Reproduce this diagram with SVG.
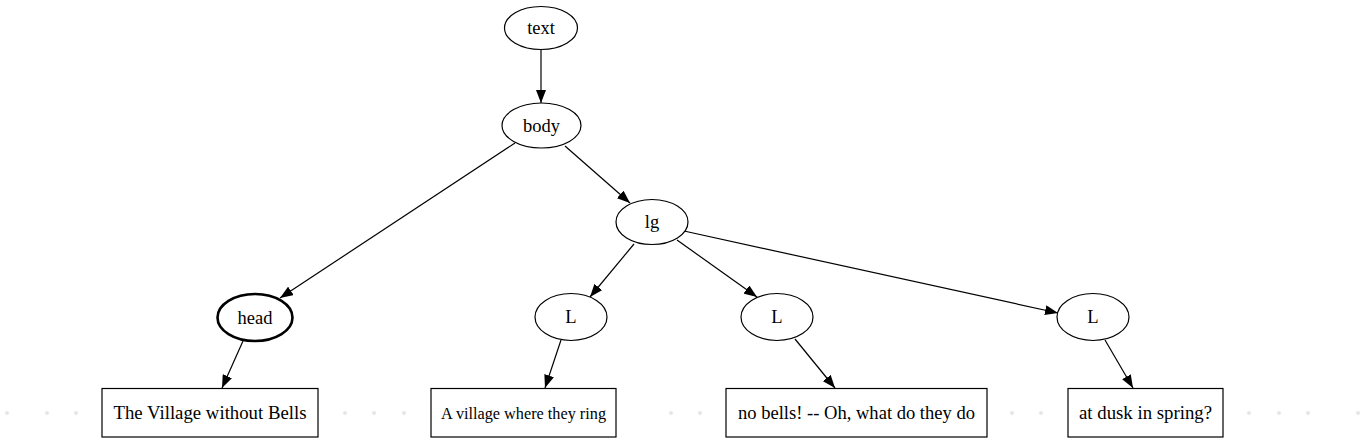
<svg xmlns="http://www.w3.org/2000/svg" width="1365" height="443" viewBox="0 0 1365 443">
<defs>
<style>
.n{fill:#fff;stroke:#000;stroke-width:1.2}
.b{fill:#fff;stroke:#000;stroke-width:2.6}
.t{font-family:"Liberation Serif","Times New Roman",serif;font-size:18.5px;fill:#000;text-anchor:middle}
.e{fill:none;stroke:#000;stroke-width:1.2}
.d{fill:#e6e6e6}
</style>
<marker id="ah" markerUnits="userSpaceOnUse" markerWidth="14" markerHeight="10" refX="13" refY="5" orient="auto">
<path d="M0,0 L13,5 L0,10 Z" fill="#000"/>
</marker>
</defs>
<rect width="1365" height="443" fill="#fff"/>
<g id="dots">
<circle class="d" cx="7" cy="413" r="2"/>
<circle class="d" cx="47" cy="413" r="2"/>
<circle class="d" cx="76" cy="413" r="2"/>
<circle class="d" cx="345" cy="413" r="2"/>
<circle class="d" cx="374" cy="413" r="2"/>
<circle class="d" cx="404" cy="413" r="2"/>
<circle class="d" cx="671" cy="413" r="2"/>
<circle class="d" cx="700" cy="413" r="2"/>
<circle class="d" cx="1012" cy="413" r="2"/>
<circle class="d" cx="1041" cy="413" r="2"/>
<circle class="d" cx="1249" cy="413" r="2"/>
<circle class="d" cx="1279" cy="413" r="2"/>
<circle class="d" cx="1308" cy="413" r="2"/>
<circle class="d" cx="1358" cy="413" r="2"/>
</g>
<g id="edges">
<line class="e" x1="541" y1="50" x2="541" y2="103" marker-end="url(#ah)"/>
<line class="e" x1="515" y1="143" x2="280" y2="298" marker-end="url(#ah)"/>
<line class="e" x1="565" y1="146" x2="630" y2="203" marker-end="url(#ah)"/>
<line class="e" x1="634" y1="244" x2="590" y2="297" marker-end="url(#ah)"/>
<line class="e" x1="677" y1="240" x2="757" y2="297" marker-end="url(#ah)"/>
<line class="e" x1="684" y1="231" x2="1058" y2="313" marker-end="url(#ah)"/>
<line class="e" x1="243" y1="341" x2="222" y2="388" marker-end="url(#ah)"/>
<line class="e" x1="561" y1="340" x2="545" y2="388" marker-end="url(#ah)"/>
<line class="e" x1="795" y1="339" x2="835" y2="388" marker-end="url(#ah)"/>
<line class="e" x1="1105" y1="340" x2="1133" y2="388" marker-end="url(#ah)"/>
</g>
<g id="n_text"><ellipse class="n" cx="541" cy="28" rx="36.5" ry="21.5"/><text class="t" x="541" y="34">text</text></g>
<g id="n_body"><ellipse class="n" cx="541.5" cy="125.5" rx="39.5" ry="22.5"/><text class="t" x="541.5" y="131.5">body</text></g>
<g id="n_lg"><ellipse class="n" cx="652" cy="222" rx="36" ry="22.5"/><text class="t" x="652" y="228">lg</text></g>
<g id="n_head"><ellipse class="b" cx="255" cy="317.5" rx="37.5" ry="23.5"/><text class="t" x="255" y="323.5">head</text></g>
<g id="n_L1"><ellipse class="n" cx="571" cy="317" rx="36" ry="23.5"/><text class="t" x="571" y="323">L</text></g>
<g id="n_L2"><ellipse class="n" cx="777" cy="317" rx="36" ry="23.5"/><text class="t" x="777" y="323">L</text></g>
<g id="n_L3"><ellipse class="n" cx="1093" cy="317" rx="36" ry="23.5"/><text class="t" x="1093" y="323">L</text></g>
<g id="n_s1"><rect class="n" x="102" y="388.5" width="216" height="48.5"/><text class="t" x="210" y="419" textLength="193" lengthAdjust="spacingAndGlyphs">The Village without Bells</text></g>
<g id="n_s2"><rect class="n" x="431" y="388.5" width="185" height="48.5"/><text class="t" x="523.5" y="419" style="font-size:17px" textLength="165" lengthAdjust="spacingAndGlyphs">A village where they ring</text></g>
<g id="n_s3"><rect class="n" x="726" y="388.5" width="261" height="48.5"/><text class="t" x="856.5" y="419" textLength="237" lengthAdjust="spacingAndGlyphs">no bells! -- Oh, what do they do</text></g>
<g id="n_s4"><rect class="n" x="1068" y="388.5" width="155" height="48.5"/><text class="t" x="1145.5" y="419" textLength="133" lengthAdjust="spacingAndGlyphs">at dusk in spring?</text></g>
</svg>
